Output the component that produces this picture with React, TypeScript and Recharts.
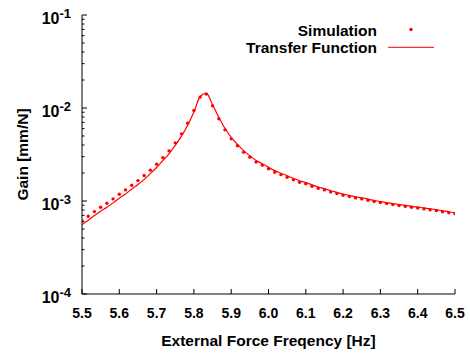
import React from 'react';
import { ComposedChart, Line, Scatter, XAxis, YAxis, Customized } from 'recharts';

const frequencies = [
  5.5, 5.5167, 5.5333, 5.55, 5.5667, 5.5833, 5.6, 5.6167, 5.6333, 5.65,
  5.6667, 5.6833, 5.7, 5.7167, 5.7333, 5.75, 5.7667, 5.7833, 5.8, 5.8167,
  5.8333, 5.85, 5.8667, 5.8833, 5.9, 5.9167, 5.9333, 5.95, 5.9667, 5.9833,
  6.0, 6.0167, 6.0333, 6.05, 6.0667, 6.0833, 6.1, 6.1167, 6.1333, 6.15,
  6.1667, 6.1833, 6.2, 6.2167, 6.2333, 6.25, 6.2667, 6.2833, 6.3, 6.3167,
  6.3333, 6.35, 6.3667, 6.3833, 6.4, 6.4167, 6.4333, 6.45, 6.4667, 6.4833,
  6.5,
];

const simulationGain = [
  6.15e-4, 6.85e-4, 7.69e-4, 8.57e-4, 9.46e-4, 1.054e-3, 1.184e-3, 1.316e-3, 1.479e-3, 1.658e-3,
  1.877e-3, 2.146e-3, 2.489e-3, 2.93e-3, 3.46e-3, 4.22e-3, 5.27e-3, 6.87e-3, 9.39e-3, 1.309e-2,
  1.41e-2, 1.057e-2, 7.66e-3, 5.82e-3, 4.66e-3, 3.92e-3, 3.35e-3, 2.96e-3, 2.63e-3, 2.43e-3,
  2.22e-3, 2.04e-3, 1.92e-3, 1.8e-3, 1.69e-3, 1.59e-3, 1.53e-3, 1.44e-3, 1.37e-3, 1.316e-3,
  1.253e-3, 1.202e-3, 1.154e-3, 1.115e-3, 1.08e-3, 1.054e-3, 1.02e-3, 9.86e-4, 9.62e-4, 9.38e-4,
  9.15e-4, 8.95e-4, 8.75e-4, 8.57e-4, 8.41e-4, 8.22e-4, 8.06e-4, 7.87e-4, 7.67e-4, 7.48e-4,
  7.31e-4,
];

const transferGain = [
  5.57e-4, 6.21e-4, 6.97e-4, 7.76e-4, 8.57e-4, 9.55e-4, 1.073e-3, 1.192e-3, 1.34e-3, 1.502e-3,
  1.708e-3, 1.968e-3, 2.29e-3, 2.72e-3, 3.22e-3, 3.97e-3, 4.98e-3, 6.54e-3, 9.04e-3, 1.33e-2,
  1.445e-2, 1.083e-2, 7.97e-3, 6.05e-3, 4.84e-3, 4.07e-3, 3.48e-3, 3.07e-3, 2.73e-3, 2.52e-3,
  2.3e-3, 2.12e-3, 1.99e-3, 1.87e-3, 1.75e-3, 1.65e-3, 1.58e-3, 1.49e-3, 1.415e-3, 1.357e-3,
  1.29e-3, 1.238e-3, 1.189e-3, 1.148e-3, 1.11e-3, 1.083e-3, 1.047e-3, 1.012e-3, 9.86e-4, 9.61e-4,
  9.38e-4, 9.17e-4, 8.96e-4, 8.78e-4, 8.61e-4, 8.42e-4, 8.26e-4, 8.06e-4, 7.86e-4, 7.66e-4,
  7.49e-4,
];

const xTicks = [5.5, 5.6, 5.7, 5.8, 5.9, 6.0, 6.1, 6.2, 6.3, 6.4, 6.5];
const yTicks = [
  1e-4, 2e-4, 3e-4, 4e-4, 5e-4, 6e-4, 7e-4, 8e-4, 9e-4,
  1e-3, 2e-3, 3e-3, 4e-3, 5e-3, 6e-3, 7e-3, 8e-3, 9e-3,
  1e-2, 2e-2, 3e-2, 4e-2, 5e-2, 6e-2, 7e-2, 8e-2, 9e-2,
  1e-1,
];
const seriesNames = ['Simulation', 'Transfer Function'];
const xTitle = 'External Force Freqency [Hz]';
const yTitle = 'Gain [mm/N]';

const data = frequencies.map((f, i) => ({ f, sim: simulationGain[i], tf: transferGain[i] }));

const FONT = '"Liberation Sans", Arial, Helvetica, sans-serif';
const RED = '#ff0000';

const isMajor = (v: number) => {
  const l = Math.log10(v);
  return Math.abs(l - Math.round(l)) < 1e-6;
};

const BottomTick = (props: any) => {
  const { x, y, payload } = props;
  return (
    <g>
      <line x1={x} x2={x} y1={y} y2={y - 5} stroke="#000" strokeWidth={1} />
      <text x={x} y={y + 24} textAnchor="middle" fontFamily={FONT} fontWeight="bold" fontSize={14} fill="#000">
        {Number(payload.value).toFixed(1)}
      </text>
    </g>
  );
};

const TopTick = (props: any) => {
  const { x, y } = props;
  return <line x1={x} x2={x} y1={y} y2={y + 5} stroke="#000" strokeWidth={1} />;
};

const LeftTick = (props: any) => {
  const { x, y, payload } = props;
  const major = isMajor(payload.value);
  const exp = Math.round(Math.log10(payload.value));
  return (
    <g>
      <line x1={x} x2={x + (major ? 5 : 2.5)} y1={y} y2={y} stroke="#000" strokeWidth={1} />
      {major && (
        <text x={x - 11} y={y + 9} textAnchor="end" fontFamily={FONT} fontWeight="bold" fontSize={16} fill="#000">
          <tspan>10</tspan>
          <tspan dy={-6} fontSize={13}>{String(exp)}</tspan>
        </text>
      )}
    </g>
  );
};

const RightTick = (props: any) => {
  const { x, y, payload } = props;
  const major = isMajor(payload.value);
  return <line x1={x} x2={x - (major ? 5 : 2.5)} y1={y} y2={y} stroke="#000" strokeWidth={1} />;
};

const Dot = (props: any) => {
  const { cx, cy } = props;
  if (cx == null || cy == null) return null;
  return <circle cx={cx} cy={cy} r={1.7} fill={RED} />;
};

const Decorations = () => (
  <g fontFamily={FONT} fontWeight="bold" fill="#000">
    <text x={377} y={36} textAnchor="end" fontSize={15.5}>{seriesNames[0]}</text>
    <circle cx={411} cy={29.5} r={1.7} fill={RED} />
    <text x={377} y={53} textAnchor="end" fontSize={15.5}>{seriesNames[1]}</text>
    <line x1={388} x2={434} y1={47.3} y2={47.3} stroke={RED} strokeWidth={1} />
    <text x={268.5} y={346} textAnchor="middle" fontSize={15.5}>{xTitle}</text>
    <text x={28} y={154.5} textAnchor="middle" fontSize={15.5} transform="rotate(-90 28 154.5)">{yTitle}</text>
  </g>
);

export default function App() {
  return (
    <div style={{ position: 'absolute', left: 0, top: 0, width: 470, height: 354, background: '#fff' }}>
      <ComposedChart width={470} height={354} data={data} margin={{ top: 15, right: 15, bottom: 0, left: 0 }}>
        <XAxis
          dataKey="f" type="number" domain={[5.5, 6.5]} ticks={xTicks} interval={0}
          tickLine={false} tickSize={0} tickMargin={0} tick={<BottomTick />} height={60}
          axisLine={{ stroke: '#000', strokeWidth: 1 }} allowDataOverflow
        />
        <XAxis
          xAxisId="top" orientation="top" dataKey="f" type="number" domain={[5.5, 6.5]} ticks={xTicks} interval={0}
          tickLine={false} tickSize={0} tickMargin={0} tick={<TopTick />} height={0}
          axisLine={{ stroke: '#000', strokeWidth: 1 }} allowDataOverflow
        />
        <YAxis
          scale="log" type="number" domain={[1e-4, 1e-1]} ticks={yTicks} interval={0}
          tickLine={false} tickSize={0} tickMargin={0} tick={<LeftTick />} width={82}
          axisLine={{ stroke: '#000', strokeWidth: 1 }} allowDataOverflow
        />
        <YAxis
          yAxisId="right" orientation="right" scale="log" type="number" domain={[1e-4, 1e-1]} ticks={yTicks} interval={0}
          tickLine={false} tickSize={0} tickMargin={0} tick={<RightTick />} width={0}
          axisLine={{ stroke: '#000', strokeWidth: 1 }} allowDataOverflow
        />
        <Line dataKey="tf" type="monotone" stroke={RED} strokeWidth={1.2} dot={false} isAnimationActive={false} />
        <Scatter dataKey="sim" fill={RED} shape={<Dot />} isAnimationActive={false} />
        <Customized component={<Decorations />} />
      </ComposedChart>
    </div>
  );
}
